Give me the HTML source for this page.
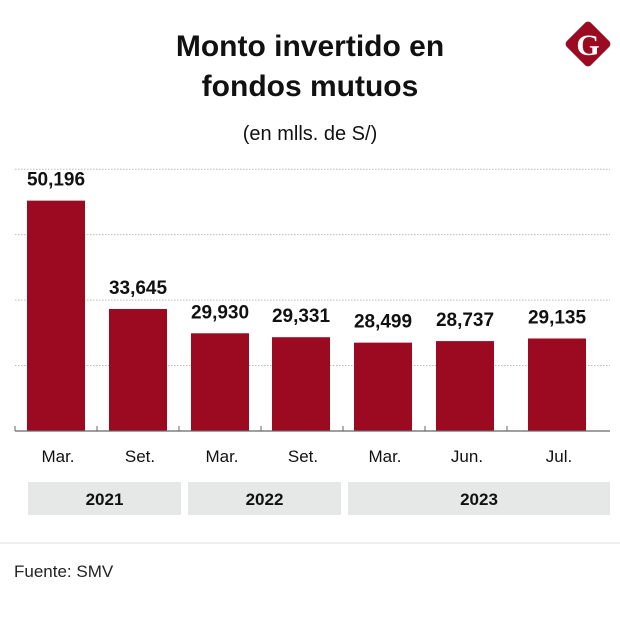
<!DOCTYPE html>
<html><head><meta charset="utf-8"><style>
body{margin:0;background:#fff;width:620px;height:616px;overflow:hidden;font-family:"Liberation Sans",sans-serif}
</style></head><body>
<svg width="620" height="616" xmlns="http://www.w3.org/2000/svg">
<text x="310" y="56" text-anchor="middle" font-size="30" font-weight="bold" fill="#111">Monto invertido en</text>
<text x="310" y="96" text-anchor="middle" font-size="30" font-weight="bold" fill="#111">fondos mutuos</text>
<text x="310" y="140" text-anchor="middle" font-size="20" fill="#111">(en mlls. de S/)</text>
<g>
<rect x="571" y="27" width="34" height="34" rx="4" fill="#9b0a20" transform="rotate(45 588 44)"/>
<text x="588" y="55" text-anchor="middle" font-family="Liberation Serif,serif" font-weight="bold" font-size="30" fill="#fff">G</text>
</g>
<g id="grid"></g><g id="bars"></g><g id="axis"></g><g id="years"></g>
<line x1="0" y1="543" x2="620" y2="543" stroke="#ddd"/>
<text x="14" y="577" font-size="17" fill="#222">Fuente: SMV</text>
</svg>
<script>
const categories=["Mar.","Set.","Mar.","Set.","Mar.","Jun.","Jul."];
const values=[50196,33645,29930,29331,28499,28737,29135];
const valueLabels=["50,196","33,645","29,930","29,331","28,499","28,737","29,135"];
const gridTicks=[25000,35000,45000,55000];
const years=["2021","2022","2023"];
const yearSpans=[[0,1],[2,3],[4,6]];
const NS="http://www.w3.org/2000/svg";
const y0=431,vmin=15000,pxPer=65.45/10000;
function y(v){return y0-(v-vmin)*pxPer;}
const barX=[27,109,191,272,354,436,528],bw=58;
function mk(t,a,p,txt){const e=document.createElementNS(NS,t);for(const k in a)e.setAttribute(k,a[k]);if(txt!==undefined)e.textContent=txt;document.getElementById(p).appendChild(e);return e;}
gridTicks.forEach(v=>{const l=mk('line',{x1:15,x2:610,y1:y(v),y2:y(v),stroke:'#bbb','stroke-dasharray':'1.5 1.5'},'grid');

});
values.forEach((v,i)=>{const r=mk('rect',{x:barX[i],y:y(v),width:bw,height:y0-y(v),fill:'#9b0a20'},'bars');


const t=mk('text',{x:barX[i]+bw/2,y:y(v)-15,'text-anchor':'middle','font-size':19,'font-weight':'bold',fill:'#111'},'bars',valueLabels[i]);


const c=mk('text',{x:barX[i]+bw/2+2,y:462,'text-anchor':'middle','font-size':17,fill:'#111'},'axis',categories[i]);

});
const ax=mk('line',{x1:15,x2:610,y1:y0,y2:y0,stroke:'#666','stroke-width':1.2},'axis');


[15,97,179,261,343,425,507].forEach(x=>{const tk=mk('line',{x1:x,x2:x,y1:y0-5,y2:y0,stroke:'#666'},'axis');

});
const bandX=[[28,181],[188,341],[348,610]];
years.forEach((yr,i)=>{const b=mk('rect',{x:bandX[i][0],y:482,width:bandX[i][1]-bandX[i][0],height:33,fill:'#e5e8e7'},'years');


const t=mk('text',{x:(bandX[i][0]+bandX[i][1])/2,y:505,'text-anchor':'middle','font-size':17,'font-weight':'bold',fill:'#111'},'years',yr);

});
</script>
</body></html>
